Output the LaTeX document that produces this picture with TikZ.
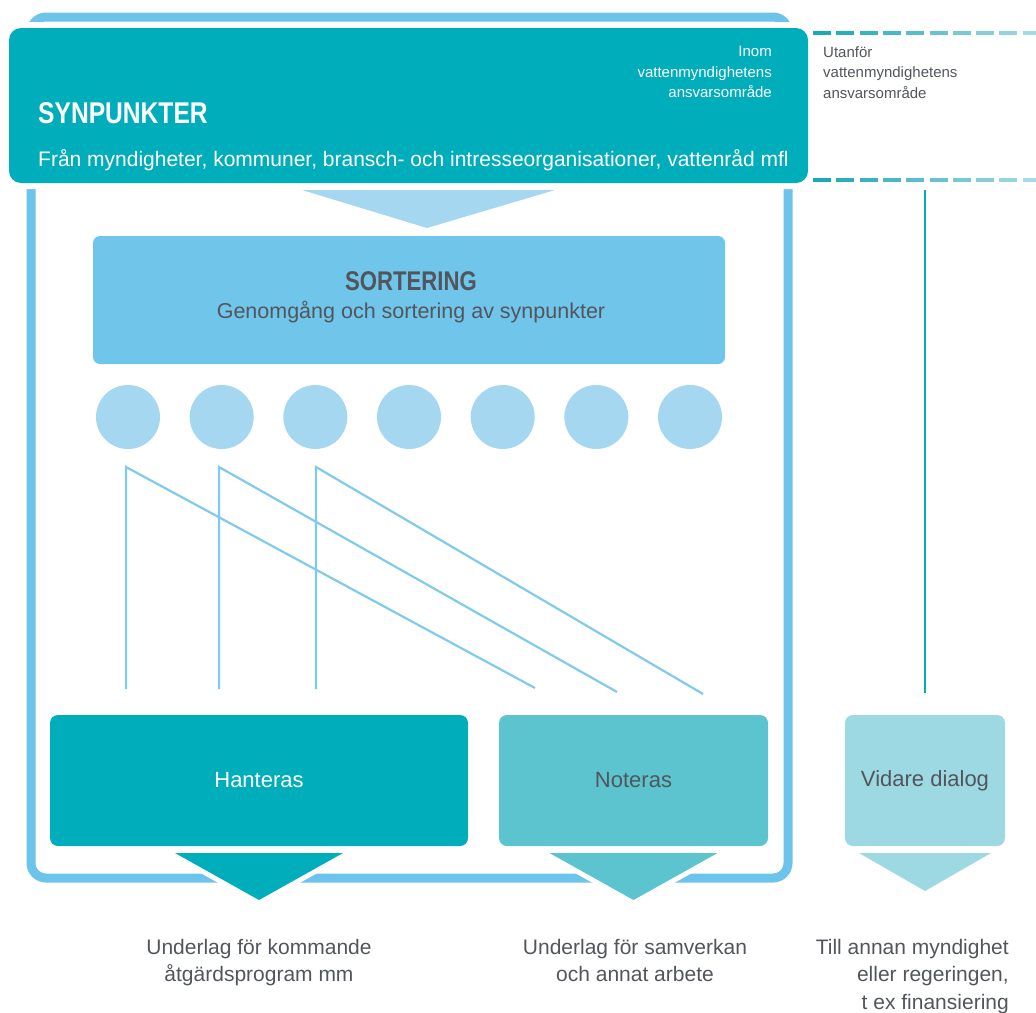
\documentclass[tikz,border=0pt]{standalone}
\usepackage{fontspec}
\setmainfont{Liberation Sans}
\newfontfamily\condfont{Liberation Sans}[FakeStretch=0.82]
\usetikzlibrary{shapes,arrows,positioning}

\definecolor{tealC}{RGB}{0,173,187}
\definecolor{frameC}{RGB}{108,196,234}
\definecolor{sortC}{RGB}{112,197,235}
\definecolor{lightC}{RGB}{165,216,240}
\definecolor{lineC}{RGB}{128,203,235}
\definecolor{notC}{RGB}{91,196,207}
\definecolor{dlgC}{RGB}{157,217,226}
\definecolor{grayC}{RGB}{82,86,92}
\definecolor{dashC}{RGB}{28,168,182}
\definecolor{dashEnd}{RGB}{196,229,236}

\tikzstyle{frame} = [rectangle, draw=frameC, line width=9pt, rounded corners=15pt,
minimum width=757pt, minimum height=861pt, outer sep=0pt]
\tikzstyle{topblock} = [rectangle, fill=tealC, preaction={draw=white, line width=12pt},
rounded corners=12pt, minimum width=799pt, minimum height=155pt, outer sep=0pt]
\tikzstyle{Sblock} = [rectangle, fill=sortC, rounded corners=7pt, minimum width=632pt,
minimum height=128pt, outer sep=0pt]
\tikzstyle{Hblock} = [rectangle, rounded corners=8pt, minimum height=131pt, outer sep=0pt,
font=\fontsize{22}{26}\selectfont]
\tikzstyle{dot} = [circle, fill=lightC, minimum size=64pt, inner sep=0pt]
\tikzstyle{tri} = [preaction={draw=white, line width=10pt, line join=round}]
\tikzstyle{line} = [draw=lineC, line width=2.2pt]
\tikzstyle{tline} = [draw=tealC, line width=2.5pt]
\tikzstyle{titleText} = [inner sep=0pt, font=\condfont\bfseries\fontsize{30}{34}\selectfont]
\tikzstyle{headText} = [inner sep=0pt, font=\condfont\bfseries\fontsize{27}{30}\selectfont]
\tikzstyle{midText} = [inner sep=0pt, font=\fontsize{21.5}{26}\selectfont]
\tikzstyle{smallText} = [inner sep=0pt, font=\fontsize{15}{20.5}\selectfont]
\tikzstyle{botText} = [inner sep=0pt, text=grayC, font=\fontsize{21}{27.5}\selectfont]

\begin{document}
\begin{tikzpicture}[x=1pt,y=-1pt]

   \useasboundingbox (0,0) rectangle (1036,1012);

   % Frame round the area of the authority
   \node[frame] (inom) at (409.5,447.5) {};

   % Dashed area outside the authority
   \foreach \i in {0,...,9}{
      \pgfmathtruncatemacro{\mix}{100-9*\i}
      \draw[dashC!\mix!dashEnd, line width=4.5pt] (813+23.3*\i,33) -- ++(18,0);
      \draw[dashC!\mix!dashEnd, line width=4.5pt] (813+23.3*\i,180) -- ++(18,0);
   }

   %% Synpunkter
   \node[topblock] (synp) at (408.5,105.5) {};
   \node[titleText, text=white, anchor=base west] (synpTitle) at (38,123) {SYNPUNKTER};
   \node[midText, text=white, anchor=base west, font=\fontsize{21}{26}\selectfont] (synpFrom) at (38,166)
        {Från myndigheter, kommuner, bransch- och intresseorganisationer, vattenråd mfl};

   \node[smallText, text=white, align=right, anchor=north east] (inomText) at (772,46)
        {Inom\\vattenmyndighetens\\ansvarsområde};
   \node[smallText, text=grayC, align=left, anchor=north west] (utanText) at (823,46)
        {Utanför\\vattenmyndighetens\\ansvarsområde};

   \fill[lightC] (302,190) -- (555,190) -- (427,228) -- cycle;

   %% Sortering
   \node[Sblock] (sort) at (409,300) {};
   \node[headText, text=grayC, anchor=base] (sortTitle) at (411,290) {SORTERING};
   \node[midText, text=grayC, anchor=base] (sortSub) at (411,318)
        {Genomgång och sortering av synpunkter};

   % Circles
   \foreach \i in {1,...,7}
      \node[dot] (c\i) at (34.33+93.67*\i,417) {};

   %% Lines
   \coordinate (top1) at (126,467);
   \coordinate (top2) at (219,467);
   \coordinate (top3) at (316,467);
   \coordinate (bot1) at (126,689);
   \coordinate (bot2) at (219,689);
   \coordinate (bot3) at (316,689);
   \coordinate (end1) at (535,688);
   \coordinate (end2) at (617,692);
   \coordinate (end3) at (703,694);

   \path[line] (bot1) -- (top1) -- (end1);
   \path[line] (bot2) -- (top2) -- (end2);
   \path[line] (bot3) -- (top3) -- (end3);

   \coordinate (dlgTop) at (925,190);
   \coordinate (dlgEnd) at (925,693);
   \path[tline] (dlgTop) -- (dlgEnd);

   %% Result boxes
   \node[Hblock, fill=tealC, text=white, minimum width=418pt] (hant) at (259,780.5) {Hanteras};
   \node[Hblock, fill=notC, text=grayC, minimum width=269pt] (note) at (633.5,780.5) {Noteras};
   \node[Hblock, fill=dlgC, text=grayC, minimum width=160pt] (dlg) at (925,780.5) {Vidare dialog};

   % Arrows out of the boxes
   \fill[tri, fill=tealC] ([xshift=-84pt,yshift=-7pt]hant.south)
      -- ([xshift=84pt,yshift=-7pt]hant.south) -- ([yshift=-54pt]hant.south) -- cycle;
   \fill[tri, fill=notC] ([xshift=-84pt,yshift=-7pt]note.south)
      -- ([xshift=84pt,yshift=-7pt]note.south) -- ([yshift=-54pt]note.south) -- cycle;
   \fill[tri, fill=dlgC] ([xshift=-66pt,yshift=-7pt]dlg.south)
      -- ([xshift=66pt,yshift=-7pt]dlg.south) -- ([yshift=-45pt]dlg.south) -- cycle;

   \node[botText, align=center, anchor=north] (hantOut) at (259,939)
        {Underlag för kommande\\åtgärdsprogram mm};
   \node[botText, align=center, anchor=north] (noteOut) at (635,939)
        {Underlag för samverkan\\och annat arbete};
   \node[botText, align=right, anchor=north east] (dlgOut) at (1009,939)
        {Till annan myndighet\\eller regeringen,\\t ex finansiering};

\end{tikzpicture}
\end{document}
